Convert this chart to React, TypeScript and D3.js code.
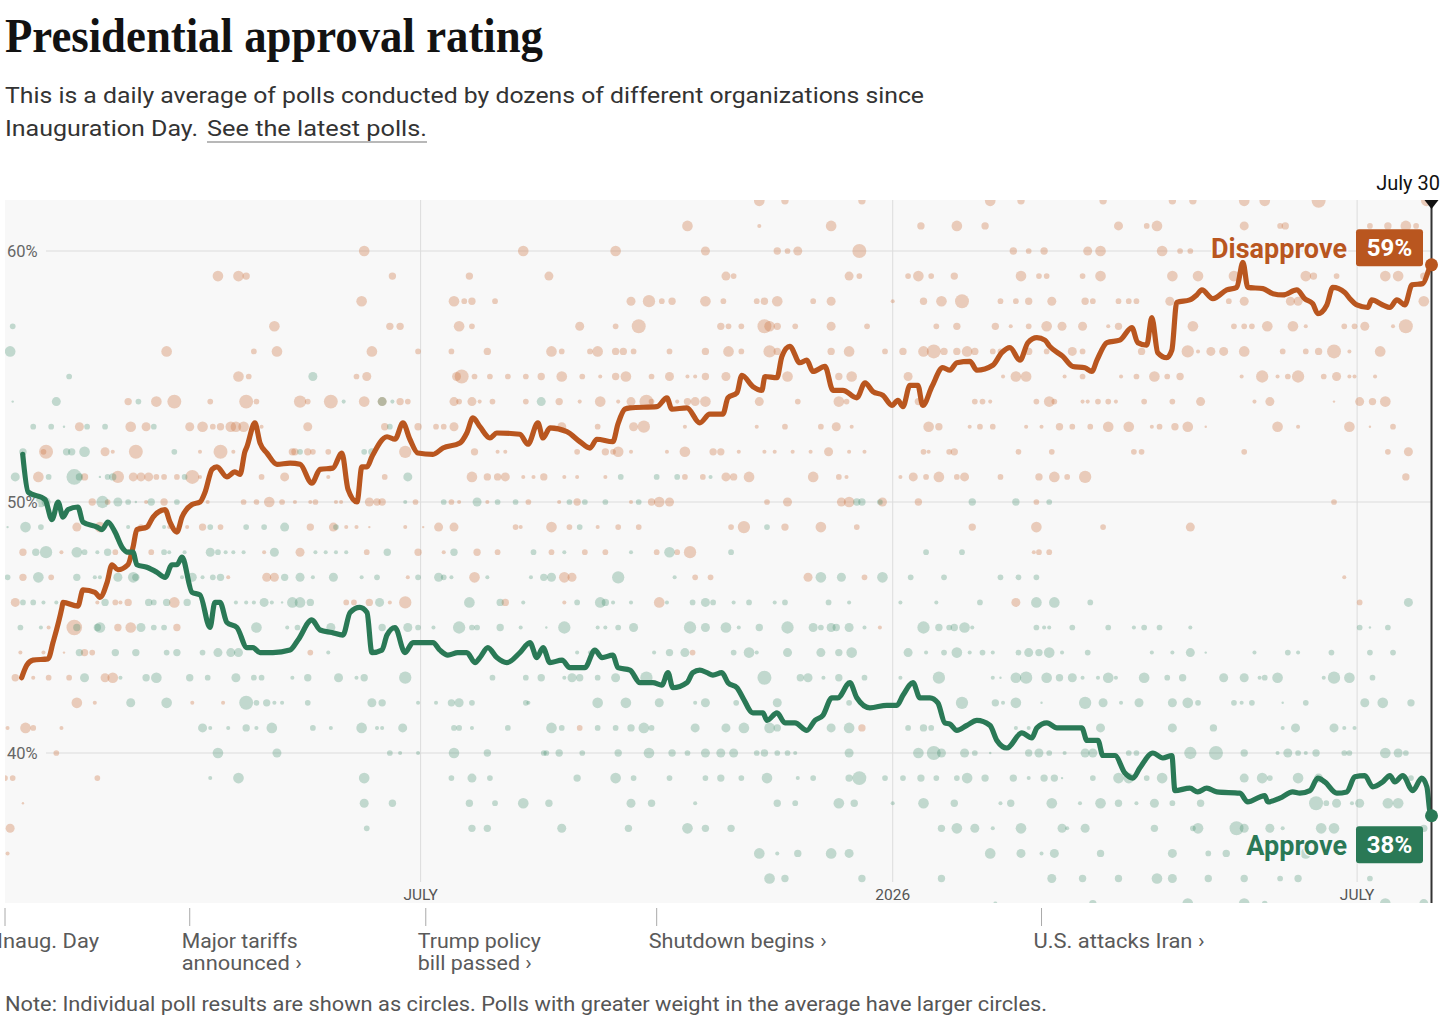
import React from "react";
import * as d3 from "d3";

// ---------- DATA ----------
// Days are counted from Inauguration Day, Jan 20, 2025. Values are percent.
const START = new Date(2025, 0, 20);
const LAST_DAY = 556; // July 30, 2026

const disapproveTrend: [number, number][] = [
  [6.5,43.0],[8.5,43.5],[10.9,43.7],[16.8,43.75],[18.7,44.4],[22.2,45.8],[22.6,46.0],[28.4,45.85],[30.4,46.5],[35.1,46.4],[37.0,46.2],[39.8,46.8],[41.7,47.5],[44.0,47.3],[47.9,47.5],[49.9,48.2],[51.4,48.9],[55.3,49.0],[57.7,49.4],[62.4,49.7],[64.3,49.2],[67.0,48.8],[69.0,49.4],[72.9,49.9],[76.0,50.0],[78.0,50.4],[80.7,51.3],[82.6,51.4],[86.5,51.0],[89.6,51.2],[91.6,51.1],[93.5,52.0],[94.3,52.2],[97.4,53.15],[99.4,52.35],[102.1,51.95],[106.0,51.5],[111.1,51.55],[115.0,51.5],[119.6,50.75],[122.8,51.3],[127.8,51.35],[131.3,51.95],[133.7,50.5],[137.2,50.0],[139.1,51.4],[141.1,51.4],[143.0,51.8],[148.9,52.6],[152.0,52.5],[155.1,53.15],[157.8,52.5],[160.9,51.95],[166.8,51.9],[170.7,52.15],[177.3,52.35],[180.0,52.75],[182.4,53.35],[185.1,53.0],[189.0,52.55],[191.7,52.75],[200.7,52.7],[203.8,52.3],[207.7,53.15],[209.7,52.55],[212.4,52.95],[219.0,52.8],[224.1,52.4],[228.0,52.15],[230.7,52.5],[236.9,52.4],[238.9,53.1],[241.6,53.7],[243.6,53.75],[254.1,53.8],[258.0,54.15],[259.9,53.7],[265.8,53.75],[270.8,53.15],[274.7,53.5],[279.8,53.5],[281.8,54.15],[285.3,54.35],[287.2,55.05],[291.5,54.6],[295.0,54.45],[296.2,55.0],[300.9,54.95],[302.8,55.8],[305.9,56.2],[309.8,55.55],[312.5,55.65],[314.9,55.2],[319.6,55.4],[322.7,54.45],[326.6,54.45],[332.0,54.15],[335.2,54.75],[338.3,54.4],[342.2,54.25],[345.7,53.85],[348.0,54.05],[350.0,53.8],[352.7,54.65],[355.8,54.65],[357.7,53.85],[361.3,54.6],[365.5,55.35],[368.3,55.25],[371.0,55.55],[376.1,55.6],[378.8,55.25],[385.0,55.45],[388.5,55.95],[391.7,56.15],[395.6,55.65],[398.7,56.35],[402.2,56.55],[405.3,56.45],[407.2,56.2],[412.3,55.8],[416.2,55.4],[420.9,55.35],[423.6,55.2],[425.6,55.65],[429.5,56.35],[434.5,56.45],[439.2,56.95],[441.5,56.35],[445.0,56.25],[447.0,57.35],[449.3,55.95],[452.8,55.75],[454.8,56.05],[456.7,57.95],[461.8,58.05],[464.5,58.25],[466.5,58.45],[470.8,58.1],[476.2,58.45],[480.1,58.55],[482.5,59.55],[484.4,58.55],[490.3,58.5],[494.2,58.3],[498.1,58.25],[503.5,58.45],[506.6,58.1],[509.7,57.9],[511.7,57.5],[515.2,57.85],[517.5,58.55],[522.2,58.35],[524.2,58.1],[526.9,57.85],[531.2,57.75],[532.7,58.05],[537.0,57.85],[539.8,57.75],[542.5,58.05],[545.6,57.85],[548.4,58.65],[552.6,58.7],[555.4,59.35],[556,59.45]
];

const approveTrend: [number, number][] = [
  [6.9,51.9],[9.0,50.4],[15.6,50.1],[18.3,49.3],[20.7,50.0],[22.6,49.4],[24.6,49.7],[28.4,49.8],[30.4,49.2],[35.9,49.0],[37.8,48.9],[40.1,49.2],[42.9,48.8],[45.6,48.2],[47.9,48.0],[49.9,48.0],[51.4,47.5],[55.3,47.4],[59.2,47.2],[62.4,47.0],[65.1,47.5],[67.0,47.5],[69.0,47.8],[72.9,46.4],[76.0,46.3],[79.9,45.0],[81.8,46.0],[83.8,46.0],[86.5,45.2],[90.4,45.0],[94.3,44.2],[96.6,44.2],[99.4,44.0],[104.4,44.0],[111.1,44.1],[114.2,44.5],[119.6,45.3],[122.8,44.9],[127.4,44.8],[131.7,44.7],[134.5,45.6],[138.3,45.8],[141.1,45.6],[143.0,44.0],[146.9,44.1],[148.9,44.7],[152.0,45.0],[155.9,44.0],[159.0,44.4],[162.5,44.4],[166.8,44.4],[169.5,44.1],[172.6,43.9],[176.5,44.0],[180.0,44.0],[183.2,43.6],[185.1,43.8],[188.2,44.2],[191.7,43.8],[195.6,43.6],[200.7,44.0],[204.6,44.4],[207.3,43.8],[209.7,44.2],[212.4,43.6],[217.1,43.7],[220.2,43.4],[226.0,43.4],[229.9,44.1],[232.7,43.8],[236.9,43.9],[238.9,43.4],[243.6,43.3],[247.5,42.8],[252.5,42.8],[256.0,42.7],[258.4,43.2],[260.3,42.6],[265.8,42.8],[268.1,43.2],[270.8,43.3],[273.6,43.2],[275.9,43.1],[279.4,43.2],[281.8,42.8],[285.3,42.6],[287.6,42.2],[291.5,41.6],[295.4,41.6],[297.0,41.3],[300.9,41.6],[304.0,41.2],[307.9,41.2],[312.5,40.9],[315.7,41.3],[318.8,41.5],[322.3,42.2],[324.6,42.2],[329.3,42.8],[332.0,42.2],[337.1,41.8],[343.7,41.9],[347.6,41.9],[350.0,42.3],[353.9,42.8],[356.6,42.2],[360.5,42.2],[363.6,42.0],[366.3,41.2],[368.3,41.15],[371.0,40.9],[374.9,41.1],[378.8,41.3],[383.9,41.1],[386.6,40.5],[390.5,40.2],[396.3,40.8],[400.2,40.6],[402.2,41.0],[406.1,41.2],[410.0,41.0],[413.9,41.0],[419.7,41.0],[421.7,40.5],[426.0,40.5],[427.9,39.9],[432.6,39.9],[436.5,39.2],[439.6,39.0],[442.3,39.4],[447.4,40.0],[451.3,39.8],[454.8,39.9],[456.0,38.5],[461.8,38.6],[464.9,38.45],[468.4,38.6],[472.3,38.45],[481.3,38.4],[484.4,38.05],[489.1,38.25],[491.0,38.3],[492.2,38.05],[496.9,38.2],[501.9,38.45],[504.7,38.4],[508.6,38.5],[511.7,39.0],[514.4,38.85],[519.1,38.4],[523.0,38.45],[526.1,39.05],[530.0,39.1],[533.1,38.65],[537.0,38.85],[539.8,39.1],[541.7,38.85],[544.8,39.1],[548.7,38.5],[552.2,39.0],[554.2,38.65],[555.4,37.65],[556,37.5]
];

// Individual polls: [result %, "day:weight day:weight ..."]
const disapprovePolls: [number, string][] = [
  [62,"294:6 304:4 334:4 384:6 396:4 428:4 455:4 463:4 483:6 491:6 512:8 554:6"],
  [61,"266:6 294:2 322:6 357:4 371:6 382:4 434:5 445:3 449:6 483:5 497:3 499:4 532:3 539:4 546:6 550:3"],
  [60,"140:6 202:6 238:6 273:5 301:4 305:3 309:5 333:8 393:4 399:3 405:4 422:5 427:6 451:6 458:3 462:3"],
  [59,"83:6 91:6 94:4 151:4 181:4 212:5 281:5 284:3 329:5 333:3 352:3 356:6 361:3 370:4 396:6 403:3 406:3 420:3 427:6 455:6 465:6 479:6 507:6 510:4 519:3 538:6 543:6 553:4"],
  [58,"139:6 175:6 179:3 182:4 191:3 244:5 251:7 256:3 260:4 273:6 280:3 293:3 296:4 301:6 315:3 322:5 346:2 358:4 365:6 373:8 388:3 394:3 399:4 408:5 421:4 424:3 434:3 438:3 441:3 454:5 477:3 483:5 501:5 504:5 553:6"],
  [57,"105:6 150:4 154:4 177:6 182:3 224:5 238:3 247:8 279:4 282:3 287:3 296:8 298:6 301:4 308:3 322:5 336:3 363:3 371:4 386:4 392:2 399:3 406:6 412:5 420:5 430:2 434:4 463:6 479:3 483:3 486:3 492:6 502:6 507:2 522:3 526:3 530:5 541:2 546:8"],
  [56,"63:6 97:3 106:6 143:6 161:3 174:3 188:4 213:6 217:3 228:3 231:6 238:4 241:4 245:3 259:3 273:4 282:6 287:3 298:7 301:4 322:4 329:6 343:3 350:4 358:6 362:8 366:4 371:4 375:6 378:4 385:3 388:3 399:4 406:3 416:5 420:3 443:4 461:7 465:2 470:5 475:5 483:6 498:3 507:3 512:4 518:8 524:2 536:6"],
  [55,"91:6 95:3 137:3 141:5 176:5 178:8 183:3 189:3 196:3 203:3 209:4 217:6 225:3 232:2 238:4 242:6 252:3 259:5 266:2 269:2 273:4 281:5 305:6 325:4 330:6 352:5 389:2 394:6 398:6 413:2 420:3 435:2 441:3 448:6 453:3 458:4 482:2 490:7 496:2 500:3 504:7 514:3 519:5 524:2 526:2 534:2"],
  [54,"48:4 59:6 66:8 80:3 94:8 98:3 115:7 118:3 127:8 140:6 147:5 154:4 157:3 175:5 177:3 182:5 185:2 190:3 203:3 216:4 224:2 232:6 239:2 244:5 250:8 252:3 256:2 262:2 266:4 269:5 273:6 294:5 309:3 325:6 328:3 356:4 378:3 381:3 384:2 402:3 407:6 409:3 420:2 422:2 426:3 430:3 433:2 444:3 455:3 466:5 487:2 493:5 518:1 528:5 533:4 538:6"],
  [53,"29:5 49:6 55:5 72:5 77:6 81:3 84:4 88:6 90:6 93:6 100:2 118:5 148:4 161:4 168:3 171:3 175:5 217:5 231:3 245:5 249:7 265:2 293:2 304:3 318:3 324:5 330:2 360:6 364:4 376:2 380:3 385:3 398:2 404:2 411:4 416:3 423:3 430:6 438:6 447:2 450:3 456:4 461:6 468:1 496:6 504:2 524:6 532:1 541:3"],
  [52,"15:3 16:8 39:5 42:2 51:8 76:2 84:8 89:2 112:4 113:4 118:4 120:3 126:3 156:7 183:4 192:2 195:2 223:3 234:4 237:3 239:6 244:2 258:2 265:6 276:4 279:4 286:2 296:2 300:2 307:2 314:2 321:5 329:2 335:2 358:3 360:2 368:3 370:4 395:3 408:3 440:3 443:3 483:3 539:3 547:5"],
  [51,"13:6 31:4 44:7 50:5 53:5 56:5 59:3 62:3 67:3 73:8 76:2 100:3 109:5 126:2 148:3 182:6 188:4 192:4 195:5 202:2 206:2 210:4 218:2 223:2 234:2 265:3 272:3 281:5 284:4 290:6 315:6 325:3 328:2 349:2 354:5 359:3 364:6 371:3 374:5 388:3 403:4 409:6 414:3 421:7 546:4"],
  [50,"34:4 40:3 55:2 62:4 79:2 93:3 98:3 103:6 108:3 113:2 119:2 121:3 129:2 131:2 142:5 145:4 147:4 160:3 174:3 177:2 188:2 204:3 216:2 223:4 244:2 252:4 255:6 259:5 297:3 305:5 326:5 329:6 342:5 356:4 402:3 518:3"],
  [49,"28:5 37:6 53:3 56:2 64:2 71:2 77:4 84:3 119:4 128:5 133:2 137:2 142:1 156:2 163:1 169:5 175:5 199:3 201:2 213:6 220:3 231:2 239:3 247:3 283:3 288:7 304:4 318:6 332:3 377:4 402:6 428:3 462:5"],
  [48,"7:4 22:2 43:3 48:3 57:3 101:2 115:5 141:3 161:4 171:2 184:4 192:3 213:3 226:3 234:3 254:3 262:3 267:7 401:2 403:3 407:3"],
  [47,"7:4 18:3 87:2 102:5 105:5 157:2 183:6 218:6 221:5 269:3 275:3 313:5 335:3 522:2"],
  [46,"4:5 36:2 43:3 45:2 48:4 66:6 133:3 136:3 142:4 150:2 156:7 195:4 218:2 255:6 394:5 528:3"],
  [45,"17:2 27:9 44:4 49:6 67:4 341:2"],
  [44,"6:2 15:2 23:1 31:4 34:3 119:3 268:3"],
  [43,"4:4 11:2 17:3 25:3 39:5 42:6"],
  [42,"28:6 35:2 73:2 85:2"],
  [41,"1:2 8:6 11:3 22:2 224:3 334:4"],
  [40,"20:3"],
  [39,"0:3 3:3 36:3"],
  [38,"7:1"],
  [37,"2:5"],
  [36,"1:2"],
];

const approvePolls: [number, string][] = [
  [57,"3:3"],
  [56,"2:6"],
  [55,"25:3 120:5"],
  [54,"3:1 20:5 52:3 132:2 147:5 151:2 209:5"],
  [53,"11:3 18:3 23:1 32:3 39:3 58:3 150:3"],
  [52,"7:4 24:4 26:4 31:6 66:3 115:3 140:3 143:4"],
  [51,"4:5 17:3 27:9 29:4 37:1 40:3 42:4 70:3 157:5 240:3 254:3 262:3 275:2"],
  [50,"14:6 16:5 38:7 44:5 48:3 51:1 57:4 67:3 156:2 171:3 184:5 192:3 199:3 220:3 226:3 234:3 247:3 332:4 334:4 341:3 377:4 394:4 407:3"],
  [49,"1:1 8:6 14:3 48:2 62:2 80:3 94:3 101:3 109:5 129:3 224:3 297:3"],
  [48,"12:4 16:7 28:6 31:3 36:2 40:4 62:3 64:2 70:2 80:5 83:3 86:2 89:2 93:2 105:5 121:2 125:2 129:2 133:2 149:4 175:4 206:3 218:2 244:2 259:6 283:3 359:3 373:3"],
  [47,"1:3 13:6 28:4 35:2 37:2 44:5 50:6 51:4 69:2 73:5 77:2 81:3 84:4 109:4 115:5 120:2 128:5 139:2 145:3 161:3 169:5 171:3 174:2 188:2 205:2 210:4 213:5 239:7 261:2 318:6 326:5 342:6 353:3 366:3 388:3 395:3 402:3"],
  [46,"7:3 11:3 15:2 20:2 39:4 56:4 58:3 63:4 71:4 84:2 90:2 94:2 97:2 101:5 104:2 108:1 112:6 115:6 119:4 146:5 181:6 193:4 202:2 223:3 232:6 234:4 237:2 244:2 258:2 268:3 273:5 276:3 284:2 290:3 300:2 304:3 321:3 329:2 349:2 363:2 380:3 402:6 409:6 423:3 547:5"],
  [45,"6:3 14:2 28:4 36:4 37:6 53:5 58:3 62:3 98:6 110:2 114:3 127:5 147:4 157:5 161:3 167:2 177:7 182:3 184:3 193:4 201:2 211:1 218:7 231:2 234:2 239:3 245:5 267:7 273:5 281:6 286:2 294:4 305:7 315:5 318:3 322:5 324:4 329:5 335:2 358:7 364:4 368:3 370:4 374:6 377:2 402:3 405:2 407:2 416:3 430:3 440:2 444:3 450:3 462:2 528:3 532:1 539:3"],
  [44,"29:4 43:4 51:4 63:3 67:4 77:3 83:5 88:5 91:5 126:2 223:2 228:2 253:2 259:4 265:5 284:3 290:6 293:2 305:5 318:5 325:4 330:6 352:5 359:2 366:3 371:6 376:2 381:3 385:2 395:3 399:5 403:4 407:6 412:2 422:3 447:2 455:2 462:5 468:1 487:2 500:3 504:2 517:3 532:3 541:3"],
  [43,"31:5 45:2 55:4 59:6 72:4 79:3 90:5 97:3 100:3 112:2 118:4 130:5 137:2 140:4 156:7 190:3 203:3 209:4 218:2 221:5 224:4 231:3 238:5 250:7 296:8 310:4 313:5 319:2 325:4 335:3 349:2 364:7 385:2 388:1 394:6 398:7 406:6 411:4 416:5 420:2 426:2 430:6 433:2 444:6 453:3 459:4 475:5 483:5 489:2 491:3 496:6 514:2 518:7 524:6 533:3"],
  [42,"49:5 63:6 94:8 98:3 102:4 105:2 108:2 118:3 143:5 147:4 161:2 168:2 174:4 177:5 182:3 203:3 204:2 231:6 242:6 255:5 269:2 273:5 285:3 301:5 329:3 373:7 386:4 389:2 394:6 404:1 421:7 428:5 435:2 442:5 455:5 461:6 465:3 479:3 482:2 486:3 498:1 507:3 530:5 537:6 548:4"],
  [41,"77:5 80:2 87:2 94:4 98:2 104:6 120:3 127:2 139:6 145:2 147:2 155:5 175:3 177:3 182:2 196:3 213:6 217:3 231:3 238:3 244:4 249:6 252:3 269:5 281:5 288:6 298:6 301:4 322:5 329:6 352:3 358:4 361:3 394:2 399:2 427:5 455:5 471:4 498:2 503:5 518:5 522:2 526:2"],
  [40,"83:6 106:5 150:3 154:2 161:2 175:6 188:4 210:3 211:3 216:4 225:3 239:4 251:6 260:4 266:3 273:5 279:5 284:5 293:3 296:4 301:3 305:3 308:2 329:5 356:6 362:8 365:5 374:5 378:3 384:1 399:4 403:5 407:3 413:2 421:5 424:5 438:3 441:3 462:7 472:8 483:4 496:2 500:5 504:3 507:2 511:4 522:3 524:3 538:6 543:5 546:3"],
  [39,"80:2 91:6 140:6 174:3 182:5 189:3 223:4 238:6 245:3 259:3 273:3 279:4 287:3 297:6 309:2 315:3 329:4 333:8 343:3 350:3 357:4 363:3 371:3 375:6 382:4 393:4 399:2 405:4 409:4 412:1 424:3 434:6 438:6 445:3 451:6 483:5 490:6 493:3 504:6 512:5 548:3"],
  [38,"140:5 151:4 181:4 191:3 202:6 212:4 244:5 252:4 269:2 301:4 308:3 325:6 331:4 346:2 358:6 370:4 388:2 392:4 408:6 419:2 427:6 434:4 441:2 448:5 455:3 466:4 511:8 515:3 519:5 525:2 528:5 539:6 543:6"],
  [37,"141:3 182:4 188:4 217:5 243:4 266:6 273:4 283:4 365:4 371:6 378:5 385:2 396:6 412:5 414:2 421:5 448:4 463:3 465:6 480:8 483:5 493:5 498:2 513:6 518:6 553:4"],
  [36,"294:6 301:2 309:4 322:6 329:5 384:6 396:5 404:2 409:5 427:4 455:5 469:3 476:4 507:6"],
  [35,"298:6 304:4 334:4 365:4 408:5 420:4 434:4 449:6 455:5 469:4 483:4 497:3 504:4 532:3"],
  [34,"386:2 424:4 461:6 483:6 491:3 538:6 553:5"],
];

const yTicks = [40, 50, 60];
const monthTicks: [string, string][] = [["2025-07-01", "JULY"], ["2026-01-01", "2026"], ["2026-07-01", "JULY"]];
const events: [string, string[]][] = [
  ["2025-01-20", ["Inaug. Day"]],
  ["2025-04-02", ["Major tariffs", "announced ›"]],
  ["2025-07-03", ["Trump policy", "bill passed ›"]],
  ["2025-10-01", ["Shutdown begins ›"]],
  ["2026-02-28", ["U.S. attacks Iran ›"]],
];

const TITLE = "Presidential approval rating";
const SUB1 = "This is a daily average of polls conducted by dozens of different organizations since";
const SUB2A = "Inauguration Day.";
const SUB2B = "See the latest polls.";
const NOTE = "Note: Individual poll results are shown as circles. Polls with greater weight in the average have larger circles.";

// ---------- LAYOUT / STYLE ----------
const W = 1456;
const H = 1029;
const PL = 5, PR = 1431.5, PT = 200, PB = 903;
const ORANGE = "#b9561f";
const GREEN = "#2a7956";
const BG = "#f8f8f8";
const SANS = "Roboto, 'Liberation Sans', Arial, sans-serif";
const SERIF = "'Liberation Serif', 'DejaVu Serif', serif";

const parseDate = d3.timeParse("%Y-%m-%d");
const dayToDate = (d: number) => new Date(START.getTime() + d * 864e5);

function parsePolls(rows: [number, string][]) {
  return rows.flatMap(([v, s]) =>
    s.split(" ").map((tok) => {
      const [d, w] = tok.split(":").map(Number);
      return { d, v, w };
    })
  );
}

export default function App() {
  const x = d3.scaleTime().domain([START, dayToDate(LAST_DAY)]).range([PL, PR]);
  const y = d3.scaleLinear().domain([40, 60]).range([753, 251]);
  const r = d3.scaleLinear().domain([1, 9]).range([1.2, 7.8]);
  const line = d3
    .line<[number, number]>()
    .x((p) => x(dayToDate(p[0])))
    .y((p) => y(p[1]))
    .curve(d3.curveMonotoneX);

  const dis = parsePolls(disapprovePolls);
  const app = parsePolls(approvePolls);
  const disEnd = disapproveTrend[disapproveTrend.length - 1];
  const appEnd = approveTrend[approveTrend.length - 1];
  const endX = x(dayToDate(LAST_DAY));

  const eventWidths: Record<string, number> = {
    "Inaug. Day": 102, "Major tariffs": 116, "announced ›": 120, "Trump policy": 123,
    "bill passed ›": 114, "Shutdown begins ›": 178, "U.S. attacks Iran ›": 171,
  };

  const disBoxY = y(disEnd[1]) - 17;
  const appBoxY = y(appEnd[1]) + 29;

  return (
    <>
      <style>{`body{margin:0;background:#fff}`}</style>
      <svg width={W} height={H} style={{ display: "block" }} fontFamily={SANS}>
        <defs>
          <clipPath id="plotclip">
            <rect x={PL} y={PT} width={PR - PL} height={PB - PT} />
          </clipPath>
        </defs>

        {/* Header */}
        <text x={5} y={52} fontFamily={SERIF} fontWeight={700} fontSize={48} fill="#121212"
          textLength={538} lengthAdjust="spacingAndGlyphs">{TITLE}</text>
        <text x={5} y={103} fontSize={22} fill="#333" textLength={919} lengthAdjust="spacingAndGlyphs">{SUB1}</text>
        <text x={5} y={136} fontSize={22} fill="#333" textLength={193} lengthAdjust="spacingAndGlyphs">{SUB2A}</text>
        <text x={207} y={136} fontSize={22} fill="#333" textLength={220} lengthAdjust="spacingAndGlyphs">{SUB2B}</text>
        <line x1={207} x2={427} y1={142} y2={142} stroke="#a0a0a0" strokeWidth={1.5} />

        {/* Plot background */}
        <rect x={PL} y={PT} width={PR - PL} height={PB - PT} fill={BG} />

        {/* Vertical month gridlines */}
        {monthTicks.map(([ds]) => {
          const xx = x(parseDate(ds)!);
          return <line key={ds} x1={xx} x2={xx} y1={PT} y2={882} stroke="#dcdcdc" strokeWidth={1} />;
        })}

        {/* Horizontal gridlines */}
        {yTicks.map((t) => (
          <line key={t} x1={46} x2={PR} y1={y(t)} y2={y(t)} stroke="#dcdcdc" strokeWidth={1} />
        ))}

        {/* Poll dots */}
        <g clipPath="url(#plotclip)">
          {dis.map((p, i) => (
            <circle key={"d" + i} cx={x(dayToDate(p.d))} cy={y(p.v)} r={r(p.w)} fill="rgba(204,112,62,0.33)" />
          ))}
          {app.map((p, i) => (
            <circle key={"a" + i} cx={x(dayToDate(p.d))} cy={y(p.v)} r={r(p.w)} fill="rgba(52,132,98,0.28)" />
          ))}
        </g>

        {/* Y tick labels */}
        {yTicks.map((t) => (
          <text key={t} x={7} y={y(t) + 5.5} fontSize={16.5} fill="#666" stroke={BG} strokeWidth={3}
            paintOrder="stroke">{t}%</text>
        ))}

        {/* Month labels */}
        {monthTicks.map(([ds, label]) => (
          <text key={ds} x={x(parseDate(ds)!)} y={900} fontSize={15.5} fill="#555" textAnchor="middle"
            stroke={BG} strokeWidth={3} paintOrder="stroke">{label}</text>
        ))}

        {/* Trend lines */}
        <path d={line(disapproveTrend) || ""} fill="none" stroke={ORANGE} strokeWidth={5.2}
          strokeLinejoin="round" strokeLinecap="round" />
        <path d={line(approveTrend) || ""} fill="none" stroke={GREEN} strokeWidth={5.2}
          strokeLinejoin="round" strokeLinecap="round" />

        {/* Current-date marker */}
        <line x1={endX} x2={endX} y1={PT} y2={PB} stroke="#333" strokeWidth={2} />
        <path d={`M${endX - 7},${PT} L${endX + 7},${PT} L${endX},${PT + 9} Z`} fill="#111" />
        <text x={1440} y={190} fontSize={20} fill="#111" textAnchor="end">July 30</text>

        <circle cx={endX} cy={y(disEnd[1])} r={6.5} fill={ORANGE} />
        <circle cx={endX} cy={y(appEnd[1])} r={6.5} fill={GREEN} />

        {/* End labels */}
        <text x={1347} y={disBoxY + 10} fontSize={27} fontWeight={700} fill={ORANGE} textAnchor="end"
          stroke={BG} strokeWidth={3} paintOrder="stroke">Disapprove</text>
        <rect x={1356} y={disBoxY - 18.5} width={67} height={37} rx={3} fill={ORANGE} />
        <text x={1389.5} y={disBoxY + 8.5} fontSize={24} fontWeight={700} fill="#fff" textAnchor="middle">
          {Math.round(disEnd[1])}%
        </text>

        <text x={1347} y={appBoxY + 10} fontSize={27} fontWeight={700} fill={GREEN} textAnchor="end"
          stroke={BG} strokeWidth={3} paintOrder="stroke">Approve</text>
        <rect x={1356} y={appBoxY - 18.5} width={67} height={37} rx={3} fill={GREEN} />
        <text x={1389.5} y={appBoxY + 8.5} fontSize={24} fontWeight={700} fill="#fff" textAnchor="middle">
          {Math.round(appEnd[1])}%
        </text>

        {/* Event annotations */}
        {events.map(([ds, lines]) => {
          const xx = x(parseDate(ds)!);
          return (
            <g key={ds}>
              <line x1={xx} x2={xx} y1={908} y2={926} stroke="#aaa" strokeWidth={1} />
              {lines.map((l, i) => (
                <text key={i} x={xx - 8} y={948 + i * 22} fontSize={20} fill="#5a5a5a"
                  textLength={eventWidths[l]} lengthAdjust="spacingAndGlyphs">{l}</text>
              ))}
            </g>
          );
        })}

        {/* Note */}
        <text x={5} y={1011} fontSize={20} fill="#555" textLength={1042} lengthAdjust="spacingAndGlyphs">{NOTE}</text>
      </svg>
    </>
  );
}
